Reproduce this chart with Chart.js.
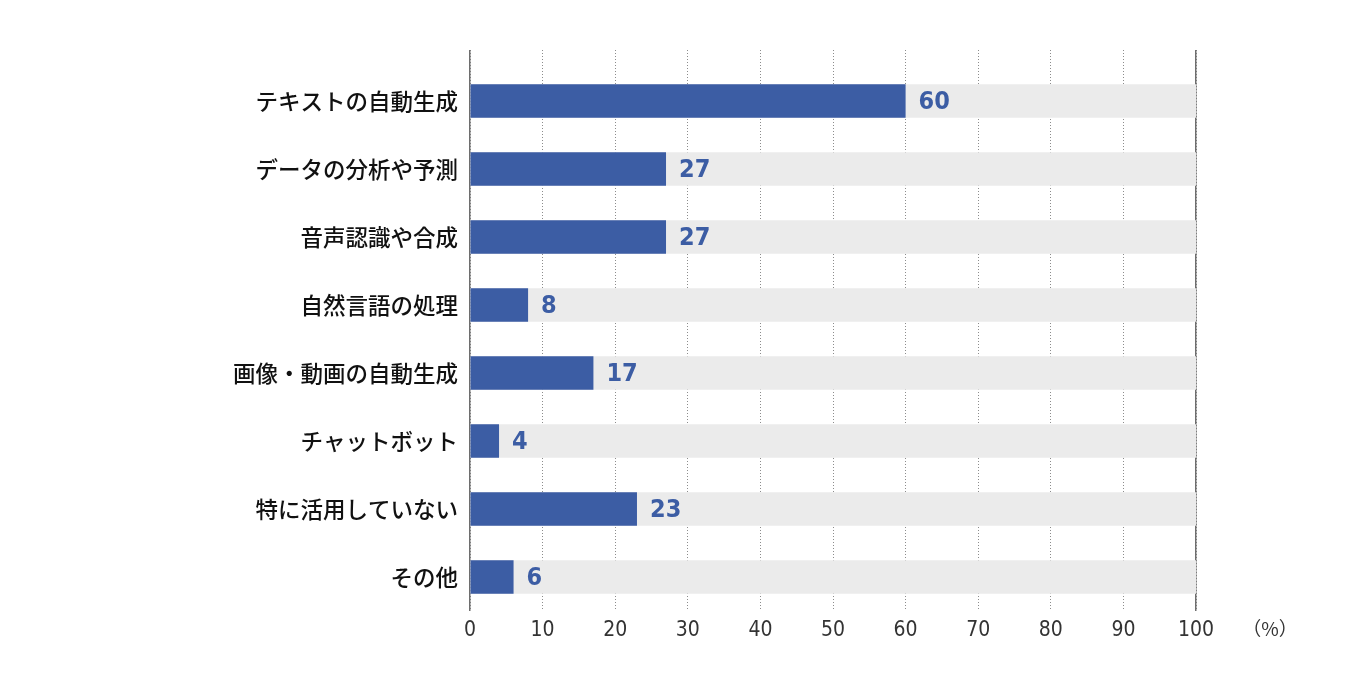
<!DOCTYPE html>
<html>
<head>
<meta charset="utf-8">
<script src="https://cdn.jsdelivr.net/npm/chart.js@4"></script>
<style>
  html, body { margin: 0; padding: 0; background: #fff; }
  #wrap { width: 1346px; height: 685px; }
</style>
</head>
<body>
<div id="wrap"><canvas id="aiChart"></canvas></div>
<script>
const categorias = [
  'テキストの自動生成',
  'データの分析や予測',
  '音声認識や合成',
  '自然言語の処理',
  '画像・動画の自動生成',
  'チャットボット',
  '特に活用していない',
  'その他'
];
const valores = [60, 27, 27, 8, 17, 4, 23, 6];
const escalaMax = 100;
const ticksX = [0, 10, 20, 30, 40, 50, 60, 70, 80, 90, 100];
const unidade = '（%）';

const azul = '#3c5da4';
const fundo = '#ebebeb';
const fonteNum = '"DejaVu Sans Condensed", "DejaVu Sans", sans-serif';
const fonteJp = '"Noto Sans CJK JP", "Noto Sans", sans-serif';

// value labels to the right of each bar + unit label
const rotulos = {
  id: 'rotulos',
  afterDatasetsDraw(chart) {
    const ctx = chart.ctx;
    const meta = chart.getDatasetMeta(1);
    ctx.save();
    ctx.fillStyle = azul;
    ctx.font = 'bold 25px ' + fonteNum;
    ctx.textBaseline = 'middle';
    ctx.textAlign = 'left';
    meta.data.forEach((bar, i) => {
      ctx.fillText(String(valores[i]), bar.x + 13, bar.y + 1);
    });
    const xs = chart.scales.x;
    ctx.fillStyle = '#333';
    ctx.font = '19px ' + fonteJp;
    ctx.textAlign = 'center';
    ctx.fillText(unidade, xs.right + 74, xs.top + 18);
    ctx.restore();
  }
};

const ctx = document.getElementById('aiChart').getContext('2d');

const aiChart = new Chart(ctx, {
  type: 'bar',
  data: {
    datasets: [
      {
        label: 'fundo',
        data: categorias.map((c, i) => ({ x: escalaMax, y: i })),
        backgroundColor: fundo,
        order: 2
      },
      {
        label: 'valores',
        data: valores.map((v, i) => ({ x: v, y: i })),
        backgroundColor: azul,
        order: 1
      }
    ]
  },
  options: {
    indexAxis: 'y',
    responsive: true,
    maintainAspectRatio: false,
    animation: false,
    devicePixelRatio: 1,
    layout: { padding: { left: 0, top: 50, right: 150, bottom: 0 } },
    datasets: {
      bar: { grouped: false, categoryPercentage: 1, barPercentage: 0.49 }
    },
    plugins: {
      legend: { display: false },
      tooltip: { enabled: false }
    },
    scales: {
      y: {
        type: 'linear',
        reverse: true,
        offset: false,
        min: -0.75,
        max: 7.5,
        afterBuildTicks: (s) => { s.ticks = categorias.map((c, i) => ({ value: i })); },
        afterFit: (s) => { s.width = 470; },
        grid: { display: false, drawTicks: false, offset: false },
        border: { display: false },
        ticks: {
          callback: (v) => categorias[v] || '',
          color: '#111',
          padding: 12,
          font: { family: fonteJp, size: 22.5, weight: '500' }
        }
      },
      x: {
        min: 0,
        max: escalaMax,
        afterBuildTicks: (s) => { s.ticks = ticksX.map(v => ({ value: v })); },
        afterFit: (s) => { s.height = 74; },
        grid: { color: '#8c8c8c', lineWidth: 1, drawTicks: false },
        border: { display: false, dash: [1, 2] },
        ticks: {
          color: '#333',
          padding: 7,
          maxRotation: 0,
          font: { family: fonteNum, size: 21 }
        }
      },
      x2: {
        type: 'linear',
        position: 'top',
        min: 0,
        max: escalaMax,
        afterBuildTicks: (s) => { s.ticks = [{ value: 0 }, { value: escalaMax }]; },
        afterFit: (s) => { s.height = 0; },
        grid: { color: '#6e6e6e', lineWidth: 1.5, drawTicks: false },
        border: { display: false },
        ticks: { display: false }
      }
    }
  },
  plugins: [rotulos]
});
</script>
</body>
</html>
